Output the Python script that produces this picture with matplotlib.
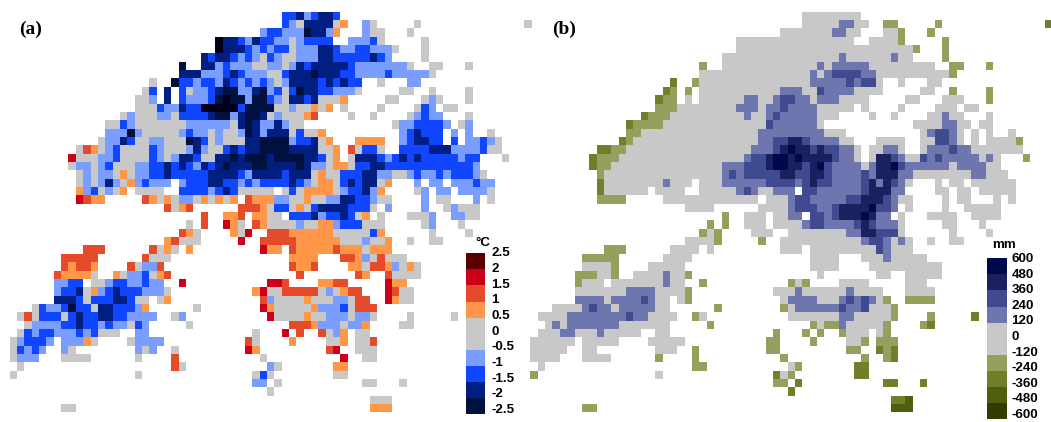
"""
Gridded temperature and precipitation change maps, panels (a) and (b).
Each row is written as "column:codes" runs, one code per grid cell.
"""

import numpy as np
import matplotlib
matplotlib.use('Agg')
import matplotlib.pyplot as plt
from matplotlib.colors import ListedColormap, BoundaryNorm
from matplotlib.cm import ScalarMappable

plt.rcParams['font.family'] = ['Liberation Sans', 'DejaVu Sans']

N_ROWS = 48
N_COLS = 71

# temperature change per cell, k=below -2.5, d,c,b,a=blues, g=near zero, o,r,R=warm
TEMP_ROWS = [
    "37:bbcabccb",
    "37:bagccccgo 48:ag 55:g 70:g",
    "34:abbaaadccao 48:agg 54:g",
    "28:kccbacbbaagabbbb 46:aaabg 56:g",
    "28:kcccbababbgaaaccbaabbaaag 56:g",
    "26:cbccbabagbaggaaaccbbbbbcba 56:g",
    "23:d 26:ccabaaaggaagacbcccccbaaaaaaag 57:gg 62:g",
    "23:cccaaabcbaaaggbcccdcccbbaaaabaaaaag",
    "19:g 22:dbbabbacbababagaccccbcbcbb 50:g 54:aa",
    "18:gb 21:c 23:bgaabcddaacdabgbdccbbaaag 53:gg 57:g 62:g",
    "17:gga 21:c 23:baaabdkddaddbagccbcgggo 51:gg 56:gag 62:g",
    "17:gggbaacbbkkkkkbddddggaggogo 45:g 50:g 55:gba 59:gg",
    "15:gagggaagbbbbcddacddcgagggor 46:g 49:g 54:gabaa 62:g",
    "13:ggbagggggggaaaaaagcdcaacagg 52:gaabbbba 61:ga",
    "13:aaadagggggabaagaggadcacccgbggo 53:abcbbb 60:a 62:a 65:g",
    "12:gaacbggaagggdcbgagggccddddabbcgo 47:oooo 53:abccbb 60:b 62:aabag",
    "9:grogabggggbagggacaggbcbccddddccccggo 46:rgbbg 53:bbbbcccaaaabgg",
    "8:Rgggaabggggbagaccbggccdcdddcddddccbgo 46:gcccbabcbcbbbbbabb 67:g",
    "8:gaagabgggaabbcbcbacbcdcccddccccdcaagoogbbccbbbbbbbbbbbba",
    "9:gagaagogaabbcbbbbbccccbaccccbcccgoggbbbccaaggabaababbbag",
    "9:gagacagoabaaa 23:abbbccbbababbbbcbagoogbcbccgo 55:a 57:aa 60:aaabaa",
    "9:oabgago 17:gggg 23:bbbbabcbggggg 37:gbgoooogabbcao 55:ga 58:aa 61:aaaag",
    "9:Rroo 18:rogogaagogogo 32:roooaaggoggaaccbbagg 56:a 58:gg 63:a 65:g",
    "21:rgor 31:rrrogbbgogbccccbbbg 51:a 56:a 59:gaggg",
    "26:r 29:oor 33:oogg 38:bbbcabbcbgo 50:g 54:ggga 60:aagg",
    "24:g 26:r 29:Rog 33:roggggaggooabbbggg 56:ga 61:g",
    "23:rog 30:ogR 35:rrroooooogggggbo 57:g 62:g",
    "21:orggg 31:R 34:rrrrroooooogggaggo 54:g 57:gg",
    "10:rrr 19:rgog 24:o 34:Roo 38:rooooorooogooo",
    "7:rrrrr 18:rggg 38:oooo 45:rroagrggg",
    "7:rorro 16:rgaar 38:roor 46:oogrroagog",
    "6:roooog 14:ogaabgor 39:r 47:ro 51:rgggg",
    "6:aabb 11:ggabbaabaa 23:R 35:RRr 42:oorr 51:Roo",
    "6:abbcgoabcbbbaaag 33:oRggrrrrrgagorr 51:Rrgg",
    "6:cccbgbbbccbgg 20:go 34:raggggogggaagrr 51:Rogg",
    "3:gbaabdbbgccbbbao 25:g 34:Rogggggoaaabgrrr",
    "1:grgbbbgbcbbccbbaaaa 22:ga 35:Rggggoggaaagaag 54:g 60:g",
    "2:gaaaabbcbbabaagba 24:g 38:rrroaaagaao 53:gg",
    "1:gbabbaaababggg 17:aa 33:g 37:R 39:r 42:rgao 47:gg",
    "0:gabbba 7:aaaog 16:gaaaa 32:rg 38:o 43:ggo 47:ggr",
    "0:gbaba 7:ag 17:aga 22:g 32:Ro 43:rR 47:ggg",
    "0:gaaa 7:gggg 17:g 22:r 34:g 45:R 48:gg",
    "1:g 22:rg 35:ag 44:oo",
    "0:g 17:g 33:gbg 44:gg",
    "33:aa 36:g 48:gg 53:g",
    "35:g",
    "49:ggg",
    "7:gg 49:ooo",
]

# precipitation change, only the cells outside +-120 mm, same grid as TEMP_ROWS
# p,q,s,t=wetter blues, h,i,j,l=drier olives
PRECIP_ROWS = [
    "",
    "42:pp 48:hh 55:h 70:i",
    "41:pp 50:h 54:h",
    "50:h 56:h",
    "52:h 56:h",
    "42:p 49:p 56:h",
    "23:h 39:p 41:ppppp 57:hh 62:h",
    "38:p 40:pqqqqpp 57:h",
    "19:i 22:h 38:pppppqpqq",
    "18:ih 21:h 34:ppp 39:qpppp 57:h 62:h",
    "17:ihh 29:pp 33:pqqpp 39:ppp 62:h",
    "17:hhh 28:ppp 32:ppqpppp",
    "15:ihhh 29:p 32:pqppppp 56:p",
    "13:ihhhh 32:qpppppp 56:pp",
    "13:hh 31:ppppppppp 54:pqqp",
    "12:ih 31:ppqqssqpppp 55:qqp 66:h",
    "9:iihh 30:pppqstssqsqqpp 48:pp 54:pppqpp",
    "8:ihhh 29:pqqsttstssssqpp 47:ssqp 53:qpqppppp 62:p 67:h",
    "8:ihh 26:pppqqqsttssqstqpppp 46:psstqpppppp 58:pppp",
    "9:h 26:pqpqqqqqssqqssqppppqpssspp 60:pp",
    "9:i 18:p 26:ppppppqqqqpqsqqppppqspsqp",
    "9:i 28:pqp 33:ppp 37:qqppppppqssspp",
    "9:hhhh 35:pqqpppppqqsssqp",
    "35:pqqqppqsssstqqp",
    "26:h 35:pp 38:qqpqssstspp",
    "24:h 26:h 37:pqqppppqsqppp",
    "23:h 25:h 43:ppssqqq",
    "25:h 31:h 45:pqqp 50:p",
    "10:hhh 47:qp",
    "7:hhhhh 48:p",
    "11:h",
    "6:hhh 11:h 18:p 21:h",
    "6:h 18:p 23:h 35:h 37:h",
    "13:pppp 21:h 36:p 43:p",
    "6:pppp 11:ppppqp 21:h 35:pppp 42:pqpqp 48:h 51:hhhh",
    "7:pqpp 12:ppppp 25:h 34:h 36:pppppp 42:qppq 49:h",
    "5:pppppppp 13:qpp 22:h 42:pp 49:h 54:h 60:i",
    "3:p 5:ppppppp 24:h 38:h 40:hhp 48:h 53:hi",
    "4:pp 9:p 33:h 37:h 39:h 42:h 48:h",
    "32:hh 38:h 45:h 47:hhh",
    "22:h 32:hh 43:hh 47:ihi",
    "17:h 22:h 34:h 45:h 48:hi",
    "22:hh 36:h 44:ii",
    "0:h 33:i 35:h 44:ii",
    "33:hh 36:i 48:ii 53:i",
    "35:i",
    "49:iij",
    "7:hh 49:jjj",
]

TEMP_VALUES = {'k': -2.75, 'd': -2.25, 'c': -1.75, 'b': -1.25, 'a': -0.75,
               'g': 0.0, 'o': 0.75, 'r': 1.25, 'R': 1.75}
PRECIP_VALUES = {'p': 180, 'q': 300, 's': 420, 't': 540,
                 'h': -180, 'i': -300, 'j': -420, 'l': -540}

TEMP_LEVELS = [-2.5, -2, -1.5, -1, -0.5, 0, 0.5, 1, 1.5, 2, 2.5]
TEMP_LABELS = ['-2.5', '-2', '-1.5', '-1', '-0.5', '0', '0.5', '1', '1.5', '2', '2.5']
TEMP_COLORS = ['#00103f', '#001f80', '#1046ff', '#7a9eff', '#c8c8c8', '#c8c8c8',
               '#ff9648', '#e54a2a', '#cc0018', '#5a0000']

PRECIP_LEVELS = [-600, -480, -360, -240, -120, 0, 120, 240, 360, 480, 600]
PRECIP_LABELS = ['-600', '-480', '-360', '-240', '-120', '0', '120', '240', '360', '480', '600']
PRECIP_COLORS = ['#333b00', '#4f5f10', '#6f7f2a', '#95a05c', '#c8c8c8', '#c8c8c8',
                 '#6d76ae', '#3f4a90', '#1a2060', '#000a4a']


def parse_rows(rows, values):
    """Turn the run strings into a 2D array, blank cells stay NaN"""
    grid = np.full((N_ROWS, N_COLS), np.nan)
    for r, row in enumerate(rows):
        for run in row.split():
            start, codes = run.split(':')
            for i, code in enumerate(codes):
                grid[r, int(start) + i] = values[code]
    return grid


def draw_panel(fig, rect, grid, colors, levels, under=None):
    """Draw one map from the grid, rect is left, bottom, width, height in pixels"""
    ax = fig.add_axes([rect[0] / W, rect[1] / H, rect[2] / W, rect[3] / H])
    cmap = ListedColormap(colors)
    if under:
        cmap.set_under(under)
    norm = BoundaryNorm(levels, cmap.N)
    ax.pcolormesh(np.arange(N_COLS + 1), np.arange(N_ROWS + 1),
                  np.ma.masked_invalid(grid), cmap=cmap, norm=norm,
                  shading='flat', antialiased=False, linewidth=0)
    ax.set_xlim(0, N_COLS)
    ax.set_ylim(N_ROWS, 0)
    ax.axis('off')
    ax.patch.set_alpha(0)
    return cmap, norm


def draw_colorbar(fig, rect, cmap, norm, labels, label_x, label_top, label_bottom):
    cax = fig.add_axes([rect[0] / W, rect[1] / H, rect[2] / W, rect[3] / H])
    cb = fig.colorbar(ScalarMappable(norm=norm, cmap=cmap), cax=cax, spacing='uniform')
    cb.set_ticks([])
    cb.minorticks_off()
    cb.outline.set_visible(False)
    # labels run a little tighter than the bar itself
    ys = np.linspace(label_bottom, label_top, len(labels))
    for label, y in zip(labels, ys):
        fig.text(label_x / W, 1 - y / H, label, fontsize=9.6, fontweight='bold',
                 va='center', ha='left')


W, H = 1051, 422
fig = plt.figure(figsize=(W / 100, H / 100), dpi=100)

temp = parse_rows(TEMP_ROWS, TEMP_VALUES)

# panel b shares the land mask of panel a, anything not listed is gray
precip = parse_rows(PRECIP_ROWS, PRECIP_VALUES)
precip[np.isnan(precip) & ~np.isnan(temp)] = 60

map_w = N_COLS * 7.35
map_h = N_ROWS * 8.35
map_bottom = H - 11.7 - map_h

cmap_t, norm_t = draw_panel(fig, (9.67, map_bottom, map_w, map_h), temp,
                            TEMP_COLORS, TEMP_LEVELS, under='#00001a')
cmap_p, norm_p = draw_panel(fig, (530.4, map_bottom, map_w, map_h), precip,
                            PRECIP_COLORS, PRECIP_LEVELS)

draw_colorbar(fig, (465.7, H - 414, 19.3, 160.7), cmap_t, norm_t, TEMP_LABELS, 491.5, 253.5, 410)
draw_colorbar(fig, (987, H - 419, 19.7, 160.7), cmap_p, norm_p, PRECIP_LABELS, 1011.5, 259, 415)

fig.text(475 / W, 1 - 243 / H, '°C', fontsize=9.6, fontweight='bold', va='center', ha='left')
fig.text(992.5 / W, 1 - 245 / H, 'mm', fontsize=9.6, fontweight='bold', va='center', ha='left')

fig.text(19 / W, 1 - 29 / H, '(a)', fontsize=14, fontweight='bold',
         family='Liberation Serif', va='center', ha='left')
fig.text(552.5 / W, 1 - 29 / H, '(b)', fontsize=14, fontweight='bold',
         family='Liberation Serif', va='center', ha='left')

fig.savefig('out.png', dpi=100)
plt.close(fig)
